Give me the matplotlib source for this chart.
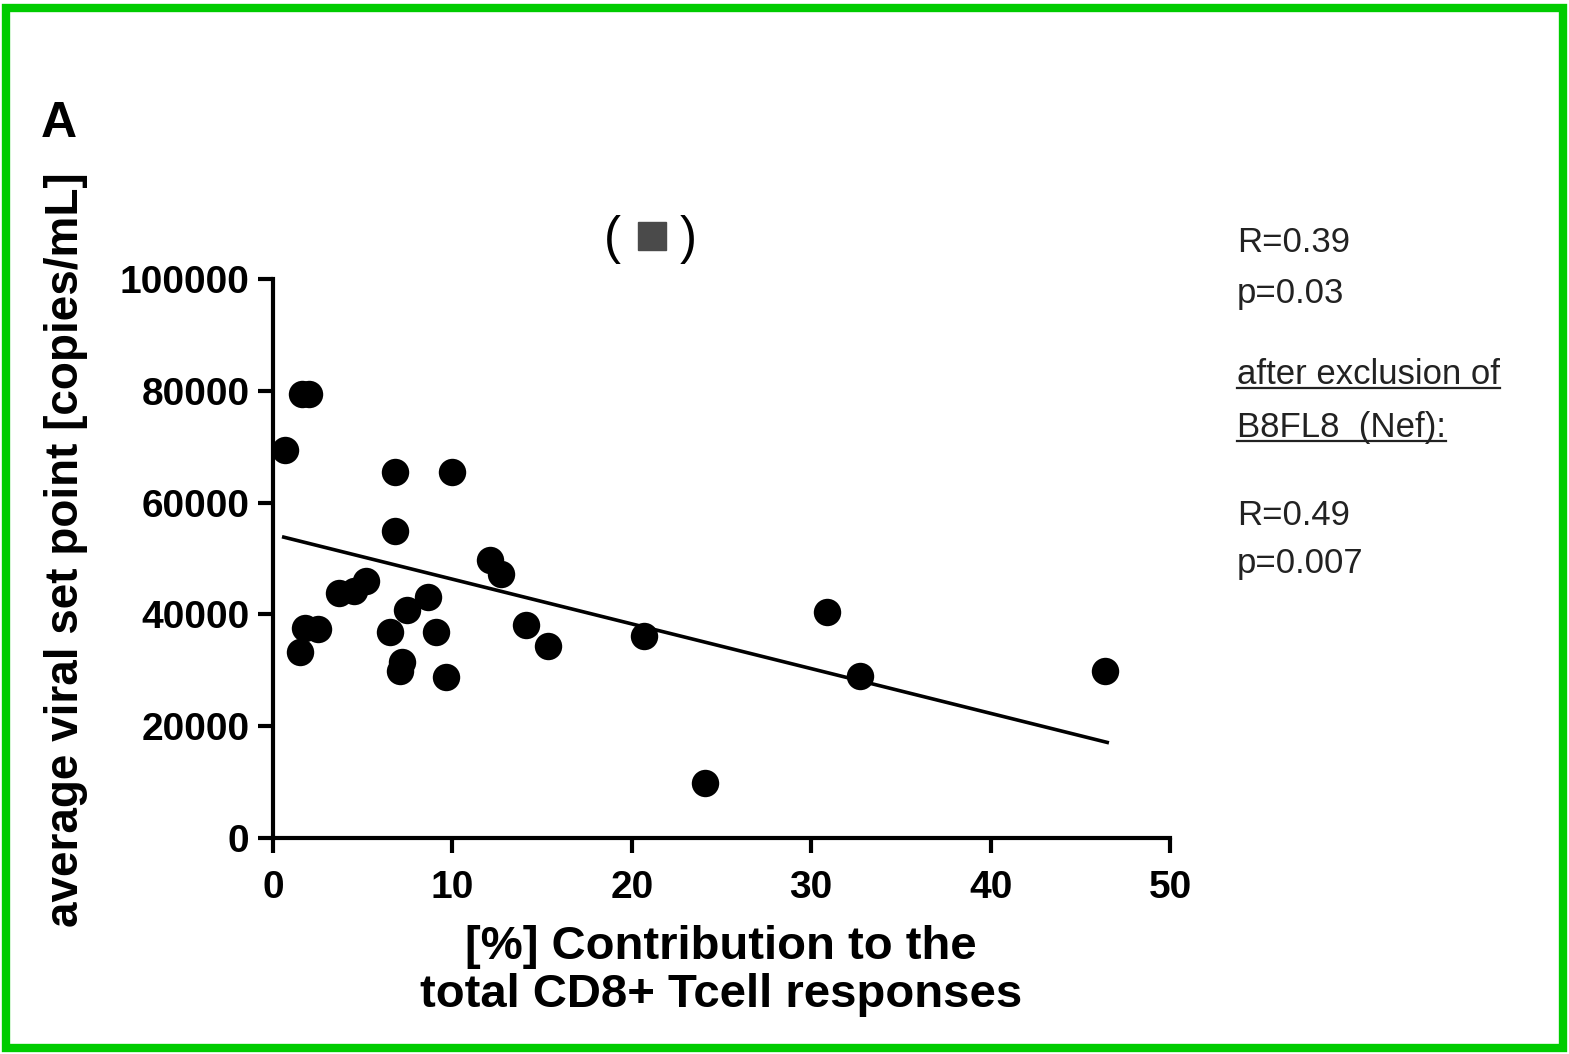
import matplotlib
matplotlib.use("Agg")
import matplotlib.pyplot as plt
from matplotlib.patches import Rectangle
from matplotlib.lines import Line2D
import numpy as np

plt.rcParams["font.family"] = ["Liberation Sans", "DejaVu Sans"]

# contribution (%) vs. average viral set point (copies/mL)
contribution = [0.67, 1.6, 2.0, 1.5, 1.8, 2.5, 3.7, 4.5, 5.2, 6.5, 6.8, 6.8,
                7.2, 7.1, 7.45, 8.65, 9.1, 9.66, 9.96, 12.1, 12.7, 14.1,
                15.35, 20.7, 24.1, 30.9, 32.7, 46.4]
set_point = [69400, 79500, 79500, 33300, 37500, 37300, 43800, 44200, 46000,
             36900, 65500, 54900, 31500, 29800, 40800, 43200, 36900, 28800,
             65500, 49700, 47300, 38100, 34300, 36100, 9800, 40400, 29000,
             29900]

# regression line (intercept, slope) and its x range
fit_intercept = 54300
fit_slope = -800
fit_x = [0.6, 46.5]

x_ticks = [0, 10, 20, 30, 40, 50]
y_ticks = [0, 20000, 40000, 60000, 80000, 100000]

stats_text = [("R=0.39", False), ("p=0.03", False),
              ("after exclusion of", True), ("B8FL8  (Nef):", True),
              ("R=0.49", False), ("p=0.007", False)]
stats_y = [242, 293, 375, 427, 516, 563]

W, H = 1569, 1054
fig = plt.figure(figsize=(W / 100, H / 100), dpi=100)
ax = fig.add_axes([273 / W, 1 - 838 / H, (1170 - 273) / W, (838 - 279) / H])

ax.scatter(contribution, set_point, s=390, color="black", marker="o",
           clip_on=False, zorder=3, linewidths=0)
fx = np.array(fit_x)
ax.plot(fx, fit_intercept + fit_slope * fx, color="black", linewidth=2.6,
        clip_on=False, zorder=2)

ax.set_xlim(0, 50)
ax.set_ylim(0, 100000)
ax.set_xticks(x_ticks)
ax.set_yticks(y_ticks)
ax.set_xticklabels([str(t) for t in x_ticks])
ax.set_yticklabels([str(t) for t in y_ticks])
for s in ["top", "right"]:
    ax.spines[s].set_visible(False)
for s in ["left", "bottom"]:
    ax.spines[s].set_linewidth(3)
ax.tick_params(axis="both", width=3, length=11, labelsize=28, direction="out")
ax.tick_params(axis="y", pad=6)
ax.tick_params(axis="x", pad=12)
for lab in ax.get_xticklabels() + ax.get_yticklabels():
    lab.set_fontweight("bold")

# axis titles placed by hand
fig.text(721 / W, 1 - 971 / H, "[%] Contribution to the\ntotal CD8+ Tcell responses",
         fontsize=34, fontweight="bold", ha="center", va="center",
         linespacing=1.1)
fig.text(66 / W, 1 - 550 / H, "average viral set point [copies/mL]",
         rotation=90, fontsize=33, fontweight="bold", ha="center", va="center")

fig.text(59 / W, 1 - 124 / H, "A", fontsize=36, fontweight="bold",
         ha="center", va="center")
fig.text(612 / W, 1 - 240 / H, "(", fontsize=37, ha="center", va="center")
fig.text(688 / W, 1 - 240 / H, ")", fontsize=37, ha="center", va="center")
fig.add_artist(Line2D([652 / W], [1 - 236 / H], marker="s", markersize=20,
                      color="#4a4a4a", linestyle="none",
                      transform=fig.transFigure))

texts = []
for (txt, under), y in zip(stats_text, stats_y):
    t = fig.text(1237 / W, 1 - y / H, txt, fontsize=25, color="#222222",
                 ha="left", va="center")
    texts.append((t, under))

fig.canvas.draw()
r = fig.canvas.get_renderer()
for t, under in texts:
    if not under:
        continue
    bb = t.get_window_extent(r)
    yl = bb.y0 + 3
    fig.add_artist(Line2D([bb.x0 / W, bb.x1 / W], [yl / H, yl / H],
                          color="#222222", linewidth=1.6,
                          transform=fig.transFigure))

fig.add_artist(Rectangle((6 / W, 6 / H), 1 - 12 / W, 1 - 14 / H,
                         transform=fig.transFigure, fill=False,
                         edgecolor="#00cc00", linewidth=6))

fig.savefig("out.png", dpi=100)
